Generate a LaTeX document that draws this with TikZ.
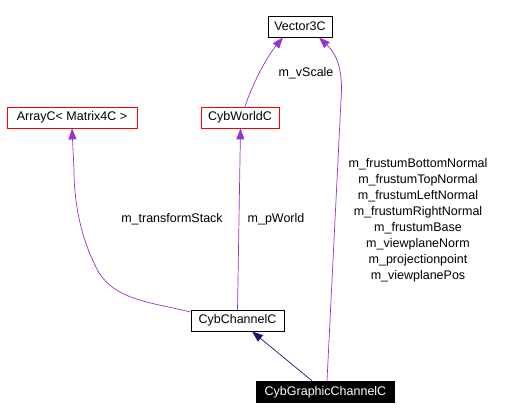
\documentclass[tikz,border=0pt]{standalone}
\usepackage{fontspec}
\setmainfont{Liberation Sans}
\usetikzlibrary{arrows.meta}
\definecolor{edgepurple}{HTML}{9A32CD}
\definecolor{edgenavy}{HTML}{191970}
\begin{document}
\begin{tikzpicture}[x=1pt,y=-1pt,
  every node/.style={font=\fontsize{12.5}{16}\selectfont, inner sep=0pt},
  cls/.style={draw=black, line width=0.8pt, minimum height=21pt, text=black},
  redcls/.style={draw=red, line width=0.8pt, minimum height=21pt},
  selcls/.style={fill=black, text=white, minimum height=22pt},
  uses/.style={draw=edgepurple, line width=0.7pt, -{Triangle[width=8pt,length=11pt]}},
  inherit/.style={draw=edgenavy, line width=0.7pt, -{Triangle[width=8pt,length=11pt]}},
  lbl/.style={align=center, text=black}]
\useasboundingbox (0,0) rectangle (511,420);
\node[cls, minimum width=64pt] (vec) at (300,26.5) {Vector3C};
\node[redcls, minimum width=130pt] (arr) at (72,117.5) {ArrayC< Matrix4C >};
\node[redcls, minimum width=78pt] (world) at (240,117.5) {CybWorldC};
\node[cls, minimum width=93pt] (chan) at (237.5,320.5) {CybChannelC};
\node[selcls, minimum width=139pt] (gchan) at (325.5,392) {CybGraphicChannelC};

\coordinate (w0) at (world.north -| 245,0);
\draw[uses] (w0) .. controls (252,85) and (266,58) .. (vec.south -| 283,0);
\draw[uses] (gchan.north -| 327,0) -- (341,100) .. controls (344,62) and (332,50) .. (vec.south -| 319,0);
\draw[uses] (chan.west |- 0,312) .. controls (150,302) and (110,300) .. (95,265) .. controls (80,235) and (74,200) .. (74,170) -- (arr.south -| 72,0);
\draw[uses] (chan.north -| 237.5,0) -- (world.south -| 240.5,0);
\draw[inherit] (gchan.north -| 312,0) -- (chan.south -| 252,0);

\node[lbl] (lvs) at (306,73) {m\_vScale};
\node[lbl] (lts) at (172,219) {m\_transformStack};
\node[lbl] (lpw) at (276,219) {m\_pWorld};
\node[lbl] (lfr) at (418,220) {m\_frustumBottomNormal\\m\_frustumTopNormal\\m\_frustumLeftNormal\\m\_frustumRightNormal\\m\_frustumBase\\m\_viewplaneNorm\\m\_projectionpoint\\m\_viewplanePos};
\end{tikzpicture}
\end{document}
